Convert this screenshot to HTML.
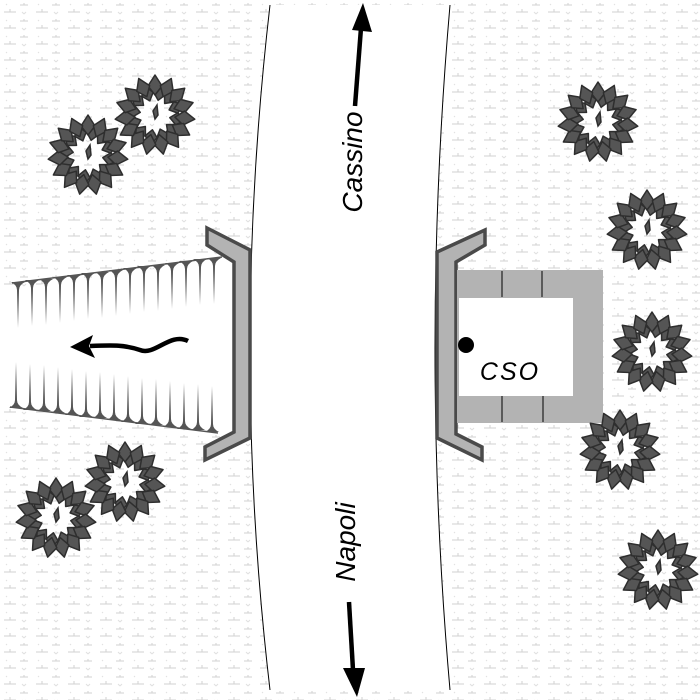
<!DOCTYPE html>
<html><head><meta charset="utf-8"><style>
html,body{margin:0;padding:0;background:#fff}
svg{display:block}
text{font-family:"Liberation Sans",sans-serif}
</style></head><body>
<svg width="700" height="700" viewBox="0 0 700 700" xmlns="http://www.w3.org/2000/svg">
<defs>
<pattern id="grass" width="32" height="16" patternUnits="userSpaceOnUse">
<rect width="32" height="16" fill="#fff"/>
<path d="M4 12h12M10 12v-3M20 5h8M24 5v-2" stroke="#d2d2d2" stroke-width="1"/>
<path d="M22 12l2 2M26 12l-2 2M6 4l1 1" stroke="#e0e0e0" stroke-width="1"/>
</pattern>
<path id="leaf" d="M0 -20 L7 -29 L0 -40 L-7 -29 Z" fill="#555" stroke="#2e2e2e" stroke-width="1.5" stroke-linejoin="round"/>
<path id="leaf2" d="M0 -15 L6 -22 L0 -31 L-6 -22 Z" fill="#555" stroke="#2e2e2e" stroke-width="1.5" stroke-linejoin="round"/>
<g id="tree">
<use href="#leaf2" transform="rotate(12)"/><use href="#leaf2" transform="rotate(40)"/><use href="#leaf2" transform="rotate(70)"/><use href="#leaf2" transform="rotate(100)"/><use href="#leaf2" transform="rotate(130)"/><use href="#leaf2" transform="rotate(160)"/><use href="#leaf2" transform="rotate(190)"/><use href="#leaf2" transform="rotate(220)"/><use href="#leaf2" transform="rotate(250)"/><use href="#leaf2" transform="rotate(280)"/><use href="#leaf2" transform="rotate(310)"/><use href="#leaf2" transform="rotate(340)"/>
<use href="#leaf" transform="rotate(0)"/><use href="#leaf" transform="rotate(24)"/><use href="#leaf" transform="rotate(48)"/><use href="#leaf" transform="rotate(72)"/><use href="#leaf" transform="rotate(96)"/><use href="#leaf" transform="rotate(120)"/><use href="#leaf" transform="rotate(144)"/><use href="#leaf" transform="rotate(168)"/><use href="#leaf" transform="rotate(192)"/><use href="#leaf" transform="rotate(216)"/><use href="#leaf" transform="rotate(240)"/><use href="#leaf" transform="rotate(264)"/><use href="#leaf" transform="rotate(288)"/><use href="#leaf" transform="rotate(312)"/><use href="#leaf" transform="rotate(336)"/>
<path d="M-2 -4 L2 -10 L3 0 L0 4 Z" fill="#555" stroke="#2e2e2e" stroke-width="1.5"/>
</g>
<path id="spikeD" d="M-7 0 L7 0 Q1 3 1 8 L0 46 L-1 8 Q-1 3 -7 0 Z" fill="#555"/>
<path id="spikeU" d="M-7 0 L7 0 Q1 -3 1 -8 L0 -46 L-1 -8 Q-1 -3 -7 0 Z" fill="#555"/>
</defs>
<rect width="700" height="700" fill="url(#grass)"/>
<path d="M270 5 Q230 350 270 690 L450 690 Q420 350 450 5 Z" fill="#fff"/>
<path d="M270 5 Q230 350 270 690" fill="none" stroke="#000" stroke-width="1"/>
<path d="M450 5 Q420 350 450 690" fill="none" stroke="#000" stroke-width="1"/>
<path d="M0 290 L220 260 L240 260 L240 432 L215 432 L0 407 Z" fill="#fff"/>
<line x1="12" y1="283" x2="222" y2="257" stroke="#555" stroke-width="1.5"/>
<line x1="10" y1="407" x2="218" y2="433" stroke="#555" stroke-width="1.5"/>
<g>
<use href="#spikeD" x="18" y="282"/><use href="#spikeD" x="32" y="280"/><use href="#spikeD" x="46" y="279"/><use href="#spikeD" x="60" y="277"/><use href="#spikeD" x="74" y="275"/><use href="#spikeD" x="88" y="273"/><use href="#spikeD" x="102" y="272"/><use href="#spikeD" x="116" y="270"/><use href="#spikeD" x="130" y="268"/><use href="#spikeD" x="144" y="266"/><use href="#spikeD" x="158" y="265"/><use href="#spikeD" x="172" y="263"/><use href="#spikeD" x="186" y="261"/><use href="#spikeD" x="200" y="259"/><use href="#spikeD" x="214" y="258"/>
<use href="#spikeU" x="16" y="408"/><use href="#spikeU" x="30" y="410"/><use href="#spikeU" x="44" y="411"/><use href="#spikeU" x="58" y="413"/><use href="#spikeU" x="72" y="415"/><use href="#spikeU" x="86" y="417"/><use href="#spikeU" x="100" y="418"/><use href="#spikeU" x="114" y="420"/><use href="#spikeU" x="128" y="422"/><use href="#spikeU" x="142" y="424"/><use href="#spikeU" x="156" y="425"/><use href="#spikeU" x="170" y="427"/><use href="#spikeU" x="184" y="429"/><use href="#spikeU" x="198" y="430"/><use href="#spikeU" x="212" y="432"/>
</g>
<path d="M188 341 C170 332 155 356 140 350 C125 345 115 345 90 346" fill="none" stroke="#000" stroke-width="4.5"/>
<path d="M70 347 L93 335 L89 346 L95 358 Z" fill="#000"/>
<polygon points="207,228 250,250 250,438 205,460 205,447 234,432 234,262 207,245" fill="#b3b3b3" stroke="#4a4a4a" stroke-width="3.5"/>
<polygon points="485,230 437,252 437,438 482,460 482,447 456,434 456,262 485,245" fill="#b3b3b3" stroke="#4a4a4a" stroke-width="3.5"/>
<rect x="457" y="270" width="146" height="153" fill="#b3b3b3"/>
<rect x="459" y="298" width="114" height="98" fill="#fff"/>
<line x1="502" y1="271" x2="502" y2="297" stroke="#000"/><line x1="542" y1="271" x2="542" y2="297" stroke="#000"/>
<line x1="502" y1="396" x2="502" y2="422" stroke="#000"/><line x1="543" y1="396" x2="543" y2="422" stroke="#000"/>
<circle cx="466" cy="345" r="8" fill="#000"/>
<text x="510" y="380" font-size="25" font-style="italic" text-anchor="middle" letter-spacing="2">CSO</text>
<use href="#tree" transform="translate(88,155)"/>
<use href="#tree" transform="translate(155,115)"/>
<use href="#tree" transform="translate(598,122)"/>
<use href="#tree" transform="translate(647,230)"/>
<use href="#tree" transform="translate(652,352)"/>
<use href="#tree" transform="translate(620,450)"/>
<use href="#tree" transform="translate(56,518)"/>
<use href="#tree" transform="translate(125,482)"/>
<use href="#tree" transform="translate(658,570)"/>
<text transform="translate(362,162) rotate(-90)" font-size="28" font-style="italic" text-anchor="middle">Cassino</text>
<path d="M355 106 L361 28" stroke="#000" stroke-width="4.5"/>
<path d="M363 3 L372 32 L352 30 Z" fill="#000"/>
<text transform="translate(355,542) rotate(-90)" font-size="28" font-style="italic" text-anchor="middle">Napoli</text>
<path d="M349 602 L353 670" stroke="#000" stroke-width="4.5"/>
<path d="M357 697 L343 668 L365 668 Z" fill="#000"/>
</svg>
</body></html>
